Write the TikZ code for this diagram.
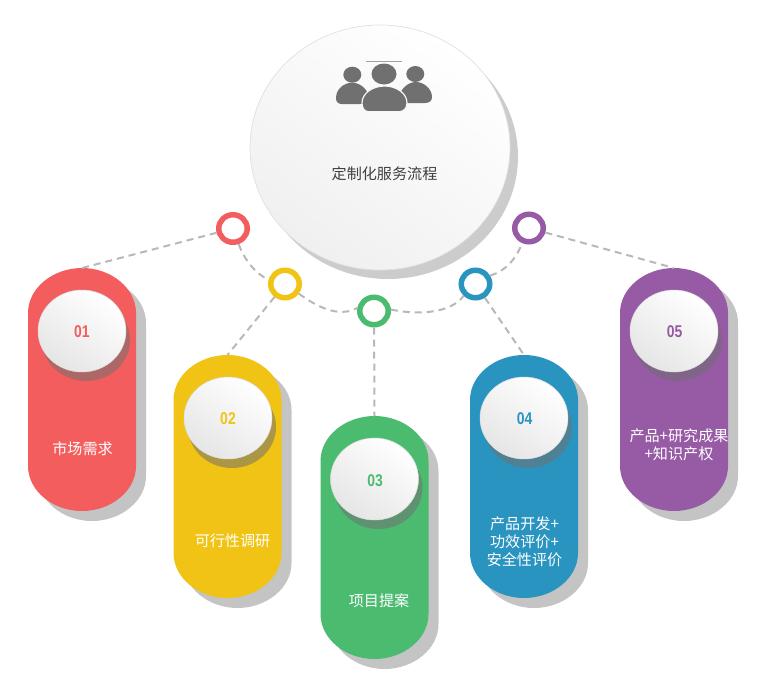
\documentclass[tikz,border=0pt]{standalone}
\usepackage{fontspec}
\usetikzlibrary{shapes.geometric}
\setmainfont{Noto Sans CJK SC}
\newfontfamily\numfont[FakeStretch=0.82]{Liberation Sans Bold}
\definecolor{cred}{HTML}{F35D5D}
\definecolor{cyellow}{HTML}{F0C314}
\definecolor{cgreen}{HTML}{4BBB70}
\definecolor{cblue}{HTML}{2A94C0}
\definecolor{cpurple}{HTML}{975AA5}
\definecolor{icongray}{HTML}{707070}
\definecolor{linkgray}{HTML}{B8B8B8}
\tikzset{
  disc/.style={ellipse,inner sep=0pt,outer sep=0pt,minimum width=#1},
  bigdisc/.style={disc=260pt,minimum height=245pt,draw=black!12,line width=.7pt,
    top color=white,bottom color=black!6,shading angle=-35},
  badge/.style={disc=88pt,minimum height=82pt,draw=black!14,line width=.5pt,
    top color=white,bottom color=black!10,shading angle=-35},
  badgeshadow/.style={disc=88pt,minimum height=82pt,fill=icongray,fill opacity=.54},
  ring/.style={disc=28.5pt,minimum height=27.5pt,draw=#1,line width=5.5pt,fill=white,outer sep=2.75pt},
  pillbase/.style={rectangle,minimum width=108pt,minimum height=243pt,inner sep=0pt,outer sep=0pt},
  link/.style={draw=linkgray,line width=2pt,dash pattern=on 7pt off 5pt},
  caption/.style={text=white,font=\fontsize{15.1}{18}\selectfont,align=center,inner sep=0pt},
  numeral/.style={font=\numfont\fontsize{17}{18}\selectfont,inner sep=0pt},
}
% One capsule: left edge, top edge, colour, name
\newcommand{\capsulebody}[4]{%
  \fill[black!23] (#1+10,#2+55)
    .. controls (#1+10,#2+30) and (#1+35,#2+10) .. (#1+64,#2+10)
    .. controls (#1+93,#2+10) and (#1+118,#2+30) .. (#1+118,#2+55)
    -- (#1+118,#2+208)
    .. controls (#1+118,#2+233) and (#1+93,#2+253) .. (#1+64,#2+253)
    .. controls (#1+35,#2+253) and (#1+10,#2+233) .. (#1+10,#2+208) -- cycle;
  \fill[#3] (#1,#2+45)
    .. controls (#1,#2+20) and (#1+25,#2) .. (#1+54,#2)
    .. controls (#1+83,#2) and (#1+108,#2+20) .. (#1+108,#2+45)
    -- (#1+108,#2+198)
    .. controls (#1+108,#2+223) and (#1+83,#2+243) .. (#1+54,#2+243)
    .. controls (#1+25,#2+243) and (#1,#2+223) .. (#1,#2+198) -- cycle;
  \node[pillbase] (#4) at (#1+54,#2+121.5) {};
}
\begin{document}
\begin{tikzpicture}[x=1pt,y=-1pt]
\useasboundingbox (0,0) rectangle (763,694);

% Central disc with its drop shadow
\node[disc=260pt,minimum height=245pt,fill=black!20] (hubshadow) at (388,156.5) {};
\node[bigdisc] (hub) at (380,147.5) {};
\node[text=black!75,font=\fontsize{15.1}{18}\selectfont,inner sep=0pt] (hubtext) at (384.5,173.5) {定制化服务流程};

% People icon
\fill[icongray!65] (366,61.3) rectangle (402,62.2);
\fill[icongray] (352.3,74.7) ellipse [x radius=9,y radius=8];
\fill[icongray] (415.3,74) ellipse [x radius=9,y radius=8];
\fill[icongray] (336,98) .. controls (336,89) and (344,82.7) .. (352,82.7)
  .. controls (360,82.7) and (368,89) .. (369,98)
  .. controls (368,103) and (365,104) .. (360,104) -- (342,104)
  .. controls (338,104) and (336,102) .. (336,98) -- cycle;
\fill[icongray] (399,98) .. controls (400,89) and (408,82) .. (416,82)
  .. controls (424,82) and (432,89) .. (432,97)
  .. controls (432,101) and (429,103) .. (425,103) -- (407,103)
  .. controls (403,103) and (399,102) .. (399,98) -- cycle;
\fill[icongray] (384,74) ellipse [x radius=12.5,y radius=10.5];
\filldraw[fill=icongray,draw=white!97!black,line width=1.2pt] (362,103) .. controls (362,93) and (373,86) .. (384.6,86)
  .. controls (396,86) and (407,93) .. (407,103)
  .. controls (407,109) and (403,111.7) .. (399,111.7) -- (369,111.7)
  .. controls (365,111.7) and (362,109) .. (362,103) -- cycle;

% Capsules
\capsulebody{28}{268}{cred}{pillone}
\capsulebody{173.5}{355}{cyellow}{pilltwo}
\capsulebody{320.5}{416}{cgreen}{pillthree}
\capsulebody{470}{355}{cblue}{pillfour}
\capsulebody{620}{268}{cpurple}{pillfive}

% Numbered badges with their shadows
\node[badgeshadow] (shadeone) at (86,340) {};
\node[badge] (badgeone) at (82,331) {};
\node[numeral,text=cred] (numone) at (82,331.5) {01};
\node[badgeshadow] (shadetwo) at (232,427) {};
\node[badge] (badgetwo) at (228,418) {};
\node[numeral,text=cyellow] (numtwo) at (228,418.5) {02};
\node[badgeshadow] (shadethree) at (378.5,488) {};
\node[badge] (badgethree) at (374.5,479) {};
\node[numeral,text=cgreen] (numthree) at (375,480.5) {03};
\node[badgeshadow] (shadefour) at (528,427) {};
\node[badge] (badgefour) at (524,418) {};
\node[numeral,text=cblue] (numfour) at (524.5,418.5) {04};
\node[badgeshadow] (shadefive) at (678,340) {};
\node[badge] (badgefive) at (674,331) {};
\node[numeral,text=cpurple] (numfive) at (674.5,331.5) {05};

% Capsule captions
\node[caption] (capone) at (82.5,448.5) {市场需求};
\node[caption] (captwo) at (232.5,540.5) {可行性调研};
\node[caption] (capthree) at (379,600.5) {项目提案};
\node[caption] (capfour) at (524.5,541.5) {产品开发+\\功效评价+\\安全性评价};
\node[caption] (capfive) at (679,445) {产品+研究成果\\+知识产权};

% Rings along the arc
\node[ring=cred] (ringone) at (233,228.5) {};
\node[ring=cyellow] (ringtwo) at (285,284) {};
\node[ring=cgreen] (ringthree) at (374,311) {};
\node[ring=cblue] (ringfour) at (475.5,284) {};
\node[ring=cpurple] (ringfive) at (529,228) {};

% Dashed connectors
\path[link] (ringone) -- (pillone.north);
\path[link] (ringtwo) -- (pilltwo.north);
\path[link] (ringthree) -- (pillthree.north);
\path[link] (ringfour) -- (pillfour.north);
\path[link] (ringfive) -- (pillfive.north);
\path[link] (ringone.-70) .. controls +(5,14) and +(-14,-6) .. (ringtwo.165);
\path[link] (ringtwo.-35) .. controls +(18,13) and +(-19,10) .. (ringthree.170);
\path[link] (ringthree.5) .. controls +(23,5) and +(-14,19) .. (ringfour.-135);
\path[link] (ringfour.30) .. controls +(15,-4) and +(-5,15) .. (ringfive.-115);
\end{tikzpicture}
\end{document}
